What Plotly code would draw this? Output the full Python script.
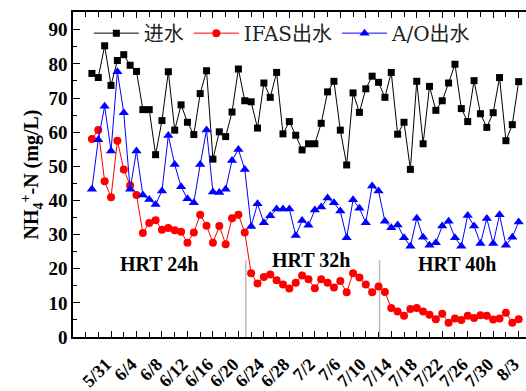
import pandas as pd
import plotly.graph_objects as go

# ---------------- data ----------------
dates = pd.date_range("2019-05-28", "2019-08-03", freq="D")

influent = [77.2, 76.0, 85.3, 73.7, 81.0, 82.7, 79.6, 77.8, 66.6, 66.6,
            53.4, 63.4, 77.7, 60.6, 68.0, 62.9, 59.3, 71.3, 78.0, 52.1,
            60.1, 58.7, 65.9, 78.5, 69.2, 68.9, 61.2, 74.4, 70.2, 77.5,
            59.5, 63.1, 59.1, 54.8, 56.6, 56.6, 62.6, 71.8, 74.9, 60.6,
            50.4, 71.5, 65.8, 72.7, 76.4, 74.6, 70.2, 77.5, 59.4, 62.9,
            49.1, 74.9, 56.6, 73.4, 66.4, 69.2, 74.4, 79.9, 66.9, 63.1,
            75.1, 65.4, 61.4, 65.7, 76.0, 57.5, 62.2, 74.8]

ifas_eff = [58.0, 60.6, 45.6, 40.9, 57.5, 49.1, 44.4, 41.6, 30.5, 33.4,
            34.2, 31.4, 31.9, 31.3, 30.8, 27.6, 30.6, 35.8, 32.6, 27.6,
            32.5, 27.2, 34.8, 35.8, 30.6, 18.7, 15.7, 17.6, 18.3, 16.6,
            15.4, 14.2, 15.9, 18.0, 16.9, 14.3, 16.9, 15.9, 14.5, 16.4,
            13.1, 18.7, 17.4, 15.4, 13.1, 14.8, 13.2, 8.5, 7.5, 6.2,
            8.2, 8.5, 7.5, 6.5, 5.2, 6.8, 4.2, 5.4, 5.0, 6.2,
            5.6, 6.4, 6.2, 5.1, 5.4, 7.1, 4.2, 5.2]

ao_eff = [43.3, 57.8, 67.6, 54.5, 77.7, 65.7, 43.3, 54.5, 41.6, 40.3,
          38.8, 42.8, 59.0, 50.5, 44.0, 40.5, 39.3, 50.5, 60.6, 42.5,
          42.3, 43.3, 51.7, 54.9, 49.1, 32.4, 39.0, 33.5, 35.5, 37.5,
          37.5, 37.5, 29.7, 34.1, 32.7, 37.2, 38.1, 40.7, 39.3, 36.9,
          29.1, 40.2, 37.7, 33.5, 44.2, 42.8, 33.9, 32.0, 32.8, 29.1,
          26.6, 34.8, 29.2, 26.9, 27.6, 32.5, 33.9, 29.1, 26.6, 35.6,
          32.5, 27.4, 34.7, 27.4, 35.8, 26.9, 29.2, 33.7]

series_names = ["进水", "IFAS出水", "A/O出水"]

tick_labels = ["5/31", "6/4", "6/8", "6/12", "6/16", "6/20", "6/24", "6/28",
               "7/2", "7/6", "7/10", "7/14", "7/18", "7/22", "7/26", "7/30", "8/3"]
tick_dates = [pd.Timestamp(f"2019-{l.split('/')[0]}-{l.split('/')[1]}") for l in tick_labels]
minor_dates = [d + pd.Timedelta(days=2) for d in tick_dates] + [tick_dates[0] - pd.Timedelta(days=2),
                                                                  tick_dates[0] - pd.Timedelta(days=4)]

phase_labels = ["HRT 24h", "HRT 32h", "HRT 40h"]
phase_label_x = ["2019-06-07 12:00", "2019-07-01 10:00", "2019-07-24 08:00"]
phase_label_y = [21.3, 22.5, 21.3]
phase_change_dates = ["2019-06-21 04:00", "2019-07-12 04:00"]
phase_line_top = 22.5

# ---------------- figure ----------------
SERIF = "Liberation Serif, Times New Roman, serif"
LEG = "DejaVu Serif, Noto Sans CJK SC, serif"

fig = go.Figure()
fig.add_trace(go.Scatter(x=dates, y=influent, name=series_names[0], mode="lines+markers",
                         line=dict(color="black", width=1),
                         marker=dict(symbol="square", size=7, color="black")))
fig.add_trace(go.Scatter(x=dates, y=ifas_eff, name=series_names[1], mode="lines+markers",
                         line=dict(color="#FF0000", width=1),
                         marker=dict(symbol="circle", size=8, color="#FF0000")))
fig.add_trace(go.Scatter(x=dates, y=ao_eff, name=series_names[2], mode="lines+markers",
                         line=dict(color="#0000FF", width=1),
                         marker=dict(symbol="triangle-up", size=9, color="#0000FF")))

for d in phase_change_dates:
    fig.add_shape(type="line", xref="x", yref="y", x0=d, x1=d, y0=0, y1=phase_line_top,
                  line=dict(color="#BBBBBB", width=1.5), layer="below")

for t, x, y in zip(phase_labels, phase_label_x, phase_label_y):
    fig.add_annotation(x=x, y=y, xref="x", yref="y", text=t, showarrow=False,
                       font=dict(family=SERIF, size=20, color="black", weight="bold"))

fig.update_layout(
    width=526, height=391,
    margin=dict(l=73, r=0, t=12, b=40),
    paper_bgcolor="white", plot_bgcolor="white",
    showlegend=True,
    legend=dict(orientation="h", x=0.035, y=0.995, xanchor="left", yanchor="top",
                bgcolor="rgba(0,0,0,0)", font=dict(family=LEG, size=20, color="#222222"),
                itemwidth=45, tracegroupgap=0),
    xaxis=dict(
        type="date",
        range=["2019-05-25 00:45", "2019-08-04 03:40"],
        tickvals=tick_dates, ticktext=tick_labels, tickangle=-45,
        ticklabelshift=-5, ticklabelstandoff=8, ticklabeloverflow="allow",
        ticks="inside", ticklen=6, tickwidth=1.2, tickcolor="black",
        minor=dict(tickvals=minor_dates, ticks="inside", ticklen=5, tickwidth=1.2, tickcolor="black"),
        showline=True, linecolor="black", linewidth=1.5, mirror="ticks",
        showgrid=False, zeroline=False,
        tickfont=dict(family=SERIF, size=18, color="black", weight="bold"),
    ),
    yaxis=dict(
        range=[0, 95.2], tickvals=[0, 10, 20, 30, 40, 50, 60, 70, 80, 90],
        ticks="inside", ticklen=7, tickwidth=1.2, tickcolor="black",
        minor=dict(dtick=5, tick0=0, ticks="inside", ticklen=4, tickwidth=1.2, tickcolor="black"),
        showline=True, linecolor="black", linewidth=1.5, mirror=False,
        showgrid=False, zeroline=False,
        tickfont=dict(family=SERIF, size=19, color="black", weight="bold"),
        title=dict(text="NH<sub>4</sub><sup>+</sup>-N (mg/L)", standoff=4,
                   font=dict(family=SERIF, size=20, color="black", weight="bold")),
    ),
)

fig.write_html("out.html")
